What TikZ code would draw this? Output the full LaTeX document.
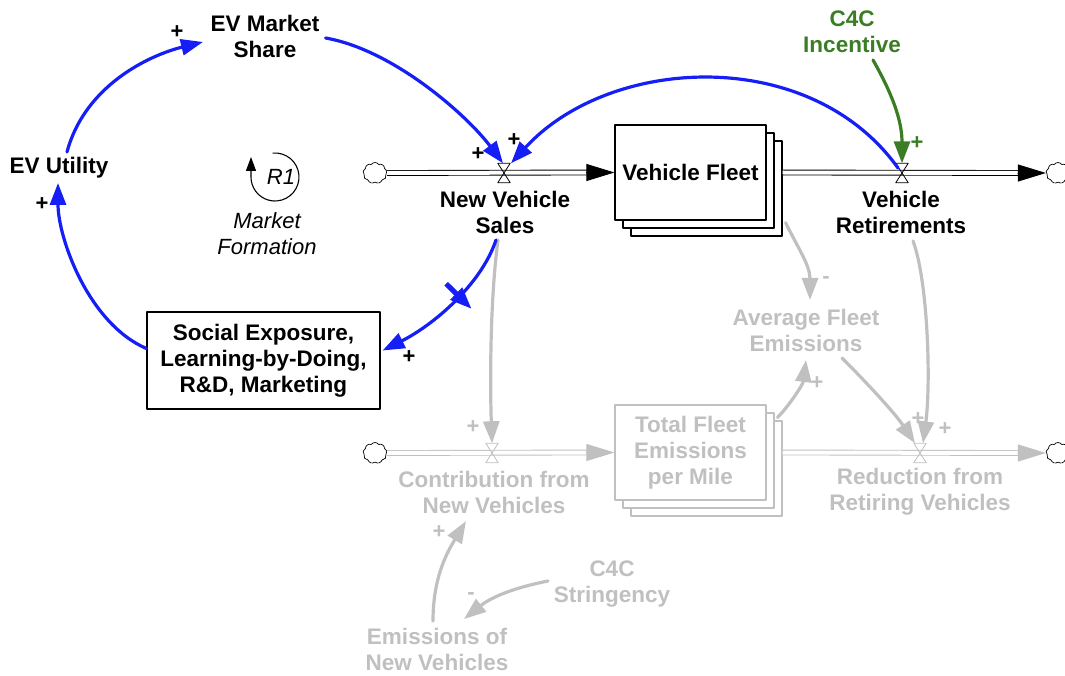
\documentclass[tikz,border=0pt]{standalone}
\usepackage{fontspec}
\setmainfont{Liberation Sans}
\usetikzlibrary{arrows.meta,shapes.symbols,shadows,decorations.markings}
\definecolor{linkblue}{RGB}{20,30,245}
\definecolor{cfcgreen}{RGB}{58,125,36}
\definecolor{faded}{RGB}{192,192,192}

\begin{document}
\begin{tikzpicture}[line cap=round,line join=round,x=1pt,y=-1pt,
  every node/.style={font=\fontsize{22.5}{26}\selectfont\bfseries,align=center,inner sep=1pt},
  loopname/.style={font=\fontsize{22}{26}\selectfont\itshape},
  pol/.style={font=\fontsize{22}{22}\selectfont\bfseries,inner sep=0pt},
  link/.style={line width=3.2pt,-{Triangle[length=22pt,width=16pt]}},
  bluelink/.style={link,linkblue},
  greenlink/.style={link,cfcgreen},
  fadedlink/.style={link,faded},
  pipe/.style={double,double distance=4pt,line width=0.9pt,line cap=butt},
  pipetip/.style={line width=0.9pt,-{Triangle[length=28pt,width=17pt]}},
  stock/.style={draw=#1,fill=white,line width=1.2pt,minimum width=151pt,minimum height=95pt,
    copy shadow={shadow xshift=16pt,shadow yshift=-16pt,draw=#1,fill=white,line width=1.2pt},
    copy shadow={shadow xshift=8pt,shadow yshift=-8pt,draw=#1,fill=white,line width=1.2pt}},
  valve/.style={minimum width=12pt,minimum height=19pt,inner sep=0pt},
  cloudy/.style={cloud,draw,fill=white,cloud puffs=9,cloud puff arc=110,aspect=1.1,
    minimum width=24pt,minimum height=21pt,inner sep=0pt,line width=0.7pt}]
\useasboundingbox (0,0) rectangle (1065,676);

\node (share) at (265,36) {EV Market\\Share};
\node (utility) at (59,168) {EV Utility};
\node[draw,line width=1.2pt,minimum width=233pt,minimum height=97pt] (social) at (263.5,360.5) {Social Exposure,\\Learning-by-Doing,\\R\&D, Marketing};
\node[loopname] (formation) at (267,234) {Market\\Formation};
\coordinate (r1) at (275,177);
\node[loopname] (r1label) at (281,177) {R1};
\draw[line width=1.1pt,-{Triangle[length=14pt,width=10pt]}] (r1) ++(-95:24) arc[start angle=-95,end angle=180,radius=24] -- ++(0,-20);

\node[stock=black] (fleet) at (690.5,172.5) {Vehicle Fleet};
\node[cloudy] (cloudA) at (375,173) {};
\node[cloudy] (cloudB) at (1058,173) {};
\node[valve] (vsales) at (504,173) {};
\node[valve] (vret) at (902,173) {};
\node (sales) at (505,212) {New Vehicle\\Sales};
\node (retire) at (901,212) {Vehicle\\Retirements};
\node[text=cfcgreen] (incent) at (852,32) {C4C\\Incentive};

\node[stock=faded,text=faded] (total) at (690.5,452.5) {Total Fleet\\Emissions\\per Mile};
\node[cloudy] (cloudC) at (375,453) {};
\node[cloudy] (cloudD) at (1058,453) {};
\node[valve] (vcon) at (492,453) {};
\node[valve] (vred) at (920,453) {};
\node[text=faded] (contrib) at (494,492) {Contribution from\\New Vehicles};
\node[text=faded] (reduct) at (920,492) {Reduction from\\Retiring Vehicles};
\node[text=faded] (avgem) at (806,330) {Average Fleet\\Emissions};
\node[text=faded] (string) at (612,584) {C4C\\Stringency};
\node[text=faded] (newem) at (437,649) {Emissions of\\New Vehicles};

\draw[pipe] (cloudA.east) -- ([xshift=-22pt]fleet.west);
\draw[pipetip] ([xshift=-28pt]fleet.west) -- (fleet.west);
\draw[pipe] ([xshift=16pt]fleet.east) -- ([xshift=-22pt]cloudB.west);
\draw[pipetip] ([xshift=-28pt]cloudB.west) -- (cloudB.west);
\draw[pipe,faded] (cloudC.east) -- ([xshift=-22pt]total.west);
\draw[pipetip,faded] ([xshift=-28pt]total.west) -- (total.west);
\draw[pipe,faded] ([xshift=16pt]total.east) -- ([xshift=-22pt]cloudD.west);
\draw[pipetip,faded] ([xshift=-28pt]cloudD.west) -- (cloudD.west);
\foreach \v/\c in {vsales/black,vret/black,vcon/faded,vred/faded}
  \draw[\c,line width=0.8pt] (\v.north west) -- (\v.north east) -- (\v.south west) -- (\v.south east) -- cycle;

\draw[fadedlink] ([shift={(-7,28)}]sales.center) .. controls +(-8,60) and +(-2,-60) .. (vcon.north);
\draw[fadedlink] ([shift={(19,2)}]fleet.south east) .. controls +(12,25) and +(0,-35) .. ([shift={(4,-30)}]avgem.center);
\draw[fadedlink] ([shift={(11,13)}]total.north east) .. controls +(10,-10) and +(-3,25) .. ([shift={(0,30)}]avgem.center);
\draw[fadedlink] ([shift={(36,28)}]avgem.center) .. controls +(25,25) and +(-20,-30) .. ([xshift=-5pt]vred.north);
\draw[fadedlink] ([shift={(12,29)}]retire.center) .. controls +(15,40) and +(8,-60) .. ([xshift=3pt]vred.north);
\draw[fadedlink] ([shift={(-4,-28)}]newem.center) .. controls +(0,-45) and +(-18,30) .. ([shift={(-28,29)}]contrib.center);
\draw[fadedlink] ([shift={(-64,-3)}]string.center) .. controls +(-40,8) and +(25,-20) .. ([shift={(27,-30)}]newem.center);

\draw[bluelink] ([shift={(8,-16)}]utility.center) .. controls +(18,-67) and +(-53,13) .. ([shift={(-62,6)}]share.center);
\draw[bluelink] ([shift={(5,2)}]share.east) .. controls +(68,12) and +(-36,-48) .. ([xshift=-1pt]vsales.north);
\draw[bluelink] ([shift={(-4,-5)}]vret.center) .. controls +(-88,-123) and +(99,-108) .. ([xshift=7pt]vsales.north);
\draw[bluelink,postaction={decorate,decoration={markings,mark=at position 0.42 with {\draw[linkblue,line width=5pt,line cap=butt] (0,-18pt) -- (0,18pt);}}}]
  ([shift={(-9,28)}]sales.center) .. controls +(-15,45) and +(50,-25) .. ([shift={(2,-10)}]social.east);
\draw[bluelink] ([shift={(0,-12)}]social.west) .. controls +(-58,-25) and +(0,55) .. ([shift={(-1,15)}]utility.center);
\draw[greenlink] ([shift={(21,28)}]incent.center) .. controls +(17,30) and +(0,-45) .. (vret.north);

\node[pol] (p1) at (177,32) {+};
\node[pol] (p2) at (42,204) {+};
\node[pol] (p3) at (478,154) {+};
\node[pol] (p4) at (514,140) {+};
\node[pol] (p5) at (409,357) {+};
\node[pol,text=cfcgreen] (p6) at (917,143) {+};
\node[pol,text=faded] (p7) at (473,427) {+};
\node[pol,text=faded] (p8) at (826,280) {-};
\node[pol,text=faded] (p9) at (817,383) {+};
\node[pol,text=faded] (p10) at (918,419) {+};
\node[pol,text=faded] (p11) at (945,429) {+};
\node[pol,text=faded] (p12) at (439,532) {+};
\node[pol,text=faded] (p13) at (471,596) {-};
\end{tikzpicture}
\end{document}
